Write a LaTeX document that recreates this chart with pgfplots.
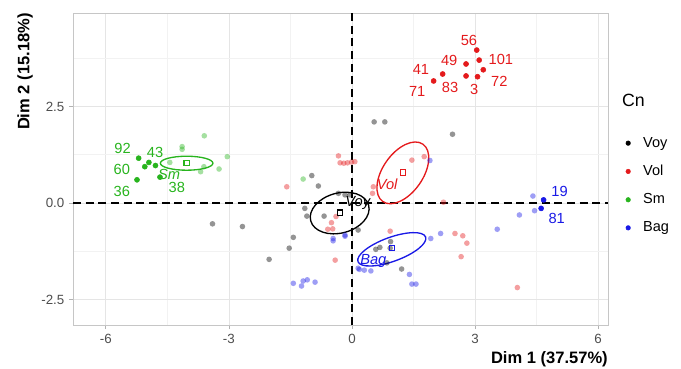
\documentclass[border=0pt]{standalone}
\usepackage{fontspec}
\setmainfont{Liberation Sans}
\usepackage{pgfplots}
\usepackage{pgfplotstable}
\pgfplotsset{compat=1.18}
\definecolor{volc}{RGB}{228,26,28}
\definecolor{smc}{RGB}{40,180,30}
\definecolor{bagc}{RGB}{25,25,230}
\definecolor{voyc}{RGB}{0,0,0}
\definecolor{tickgray}{RGB}{77,77,77}

\pgfplotstableread{
x y
-0.98 0.71
-0.82 0.44
-1.15 -0.14
-1.10 -0.34
-0.68 -0.34
-3.40 -0.54
-2.67 -0.61
-1.43 -0.89
-1.53 -1.17
-2.02 -1.46
-0.17 0.21
-0.33 0.25
0.15 -0.70
0.54 2.10
0.80 2.10
2.45 1.78
0.58 -1.20
0.68 -1.15
0.94 -1.00
0.93 -1.17
0.85 -1.55
1.21 -1.71
-0.05 0.21
}\voylight

\pgfplotstableread{
x y
1.46 1.11
1.76 1.20
0.52 0.42
0.50 0.25
2.23 0.02
0.93 -0.73
2.51 -0.79
2.70 -0.85
2.80 -1.04
2.66 -1.39
4.03 -2.19
-0.33 1.22
-0.29 1.04
-0.20 1.03
-0.11 1.04
-0.01 1.06
0.07 1.07
-1.59 0.42
-0.39 -0.35
-0.50 -0.51
-0.59 -0.68
-0.47 -0.67
-0.41 -1.48
}\vollight

\pgfplotstableread{
x y
-3.60 1.74
-4.14 1.46
-4.14 1.39
-3.04 1.20
-4.44 1.05
-3.61 0.94
-3.24 0.88
-3.69 0.81
-1.19 0.62
}\smlight

\pgfplotstableread{
x y
-0.46 -0.92
-0.46 -0.98
-0.17 -0.86
-1.43 -2.08
-1.23 -2.15
-1.19 -2.02
-1.09 -1.99
-0.90 -2.05
0.15 -1.69
0.18 -1.72
0.30 -1.74
0.46 -1.76
1.40 -1.85
1.46 -2.10
1.56 -2.10
1.92 -0.92
2.16 -0.79
3.54 -0.68
4.08 -0.31
4.41 0.18
4.45 -0.20
1.90 1.10
-0.17 -0.83
}\baglight

\pgfplotstableread{
x y
3.04 3.96
3.10 3.70
2.78 3.60
3.20 3.45
2.21 3.34
2.78 3.29
3.06 3.27
1.99 3.16
}\voldark

\pgfplotstableread{
x y
-5.20 1.16
-4.95 1.05
-5.05 0.94
-4.79 0.97
-5.24 0.60
-4.68 0.67
}\smdark

\pgfplotstableread{
x y
4.67 0.08
4.61 -0.14
}\bagdark

\pgfplotstableread{
x y lab
2.85 4.22 56
3.63 3.73 101
2.37 3.68 49
3.59 3.16 72
1.68 3.45 41
2.39 2.98 83
2.98 2.95 3
1.59 2.90 71
0.86 0.49 \textit{Vol}
}\vollab

\pgfplotstableread{
x y lab
-5.59 1.42 92
-4.80 1.30 43
-5.61 0.88 60
-5.61 0.31 36
-4.27 0.39 38
-4.46 0.73 \textit{Sm}
}\smlab

\pgfplotstableread{
x y lab
5.06 0.29 19
4.99 -0.40 81
0.52 -1.49 \textit{Bag}
}\baglab

\pgfplotstableread{
x y lab
0.15 0.01 \textit{Voy}
}\voylab

\begin{document}
\begin{tikzpicture}
\begin{axis}[
  scale only axis, width=401.25pt, height=234pt,
  xmin=-6.8, xmax=6.24, ymin=-3.16, ymax=4.92,
  xtick={-6,-3,0,3,6}, xticklabels={-6,-3,0,3,6},
  ytick={-2.5,0,2.5}, yticklabels={-2.5,0.0,2.5},
  minor xtick={-4.5,-1.5,1.5,4.5}, minor ytick={-1.25,1.25,3.75},
  grid=both,
  major grid style={draw=gray!20, line width=0.5pt},
  minor grid style={draw=gray!10, line width=0.4pt},
  axis line style={draw=gray!45, line width=0.6pt},
  tick align=outside, tick pos=left,
  major tick length=3pt, minor tick length=0pt,
  tick style={draw=gray!60, line width=0.5pt},
  /pgf/number format/assume math mode=true,
  ticklabel style={font=\fontsize{10}{12}\selectfont, text=tickgray},
  xlabel={Dim 1 (37.57\%)}, ylabel={Dim 2 (15.18\%)},
  xlabel style={at={(axis description cs:1,-0.109)}, anchor=east, inner sep=0pt,
    font=\bfseries\fontsize{12.4}{14}\selectfont},
  ylabel style={at={(axis description cs:-0.0897,1.0)}, anchor=east, inner sep=0pt,
    font=\bfseries\fontsize{12.4}{14}\selectfont},
  clip=false,
  legend style={at={(axis description cs:1.025,0.62)}, anchor=north west,
    draw=none, fill=none, font=\fontsize{10.9}{12}\selectfont, row sep=8pt},
  legend cell align=left,
  legend image code/.code={\fill[#1] (0.2cm,0cm) circle (1.7pt); \path[draw=none, fill=none] (0.2cm,0cm) rectangle ++(9.2pt,0.1pt);},
  lightpt/.style={forget plot, only marks, mark=*, mark size=2.1pt,
    mark options={draw=#1, fill=#1, draw opacity=0, fill opacity=0.42}},
  darkpt/.style={forget plot, only marks, mark=*, mark size=1.9pt,
    mark options={draw=#1, fill=#1}},
  ctr/.style={forget plot, only marks, mark=square, mark size=2pt,
    mark options={draw=#1, line width=0.8pt}},
  lab/.style={forget plot, draw=none, mark=none,
    nodes near coords, nodes near coords align=center, point meta=explicit symbolic,
    every node near coord/.append style={text=#1, inner sep=0pt, font=\fontsize{11}{12}\selectfont}},
]
% light points
\addplot[lightpt=voyc] table {\voylight};
\addplot[lightpt=volc] table {\vollight};
\addplot[lightpt=smc] table {\smlight};
\addplot[lightpt=bagc] table {\baglight};
% dashed zero lines
\addplot[forget plot, black, line width=1.2pt, dash pattern=on 6pt off 3.5pt] coordinates {(0,-3.16) (0,4.92)};
\addplot[forget plot, black, line width=1.2pt, dash pattern=on 6pt off 3.5pt] coordinates {(-6.8,0) (6.24,0)};
% dark points
\addplot[darkpt=volc] table {\voldark};
\addplot[darkpt=smc] table {\smdark};
\addplot[darkpt=bagc] table {\bagdark};
% ellipses
\draw[voyc, line width=1pt, rotate around={15:(axis cs:-0.30,-0.26)}] (axis cs:-0.30,-0.26) ellipse [x radius=22.5pt, y radius=15pt];
\draw[volc, line width=1pt, rotate around={55:(axis cs:1.24,0.78)}] (axis cs:1.24,0.78) ellipse [x radius=26.25pt, y radius=15pt];
\draw[smc, line width=1pt, rotate around={0:(axis cs:-4.03,1.03)}] (axis cs:-4.03,1.03) ellipse [x radius=19.7pt, y radius=5.25pt];
\draw[bagc, line width=1pt, rotate around={20:(axis cs:0.97,-1.20)}] (axis cs:0.97,-1.20) ellipse [x radius=27pt, y radius=9pt];
% centers
\addplot[ctr=voyc] coordinates {(-0.29,-0.25)};
\addplot[ctr=volc] coordinates {(1.24,0.79)};
\addplot[ctr=smc] coordinates {(-4.03,1.03)};
\addplot[ctr=bagc] coordinates {(0.97,-1.17)};
% labels
\addplot[lab=volc] table[meta=lab] {\vollab};
\addplot[lab=smc] table[meta=lab] {\smlab};
\addplot[lab=bagc] table[meta=lab] {\baglab};
\addplot[lab=voyc] table[meta=lab] {\voylab};
% legend
\addlegendimage{voyc}
\addlegendentry{Voy}
\addlegendimage{volc}
\addlegendentry{Vol}
\addlegendimage{smc}
\addlegendentry{Sm}
\addlegendimage{bagc}
\addlegendentry{Bag}
\node[anchor=west, inner sep=0pt, font=\fontsize{13.3}{15}\selectfont] at (axis description cs:1.026,0.721) {Cn};
\end{axis}
\pgfresetboundingbox
\path (current axis.south west) ++(-54.75pt,-32.25pt) rectangle ++(510.75pt,276pt);
\end{tikzpicture}
\end{document}
